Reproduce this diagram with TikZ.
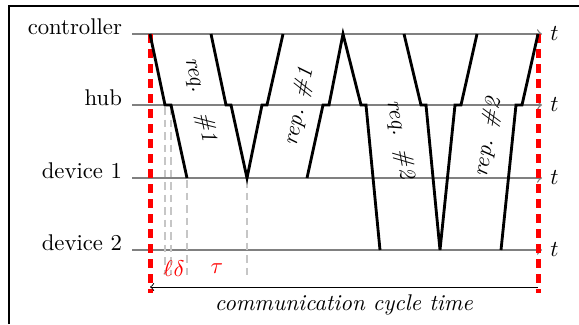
\documentclass[tikz,border=0pt]{standalone}
\usepackage{amsmath,amssymb}
\usepackage{tikz}

\begin{document}
\begin{tikzpicture}[x=0.44pt,y=-0.44pt,
  lane/.style={gray,semithick,->},
  msg/.style={line width=1.25pt,line join=miter},
  cyclemark/.style={red,line width=2.2pt,dash pattern=on 4pt off 2.6pt},
  tick/.style={gray!45,semithick,dash pattern=on 3.5pt off 2pt}]
 \useasboundingbox (0,0) rectangle (579,324);
 \draw[line width=1.3pt] (9,324) -- (9,6) -- (579,6);
 \foreach \y/\name/\lbl in {34/ctrl/controller,105/hub/hub,178/devA/device 1,250/devB/device 2}{
   \node[anchor=base east] (\name) at (130,\y) {\lbl};
   \coordinate (\name-s) at (132,\y);
   \coordinate (\name-e) at (542,\y);
   \draw[lane] (\name-s) -- (\name-e) node[right,black] (\name-t) {$t$};
 }
 \draw[tick] (165,107) -- (165,275);
 \draw[tick] (171,107) -- (171,275);
 \draw[tick] (187,180) -- (187,275);
 \draw[tick] (247,180) -- (247,275);
 \node[red] (ell) at (168,269) {$\ell$};
 \node[red] (dlt) at (179,269) {$\delta$};
 \node[red] (tau) at (217,269) {$\tau$};
 \draw[cyclemark] (150,34) -- (150,293);
 \draw[cyclemark] (538,34) -- (538,293);
 \coordinate (cycL) at (150,287);
 \coordinate (cycR) at (538,287);
 \draw[<-] (cycL) -- node[below] (cyclbl) {\textit{communication cycle time}} (cycR);
 \draw[msg] (150,34) -- (165,105) -- (171,105) -- (187,178);
 \draw[msg] (211,34) -- (226,105) -- (231,105) -- (247,178) -- (262,105) -- (267,105) -- (283,34);
 \draw[msg] (307,178) -- (323,105) -- (329,105) -- (343,34) -- (361,105) -- (366,105) -- (380,250);
 \draw[msg] (404,34) -- (421,105) -- (426,105) -- (440,250) -- (455,105) -- (461,105) -- (477,34);
 \draw[msg] (501,250) -- (516,105) -- (522,105) -- (538,34);
 \node[rotate=-78] (req1) at (200,100) {\textit{req.\hspace{9pt}\#1}};
 \node[rotate=78] (rep1) at (299,107) {\textit{rep.\hspace{5pt}\#1}};
 \node[rotate=-80] (req2) at (400,140) {\textit{req.\hspace{6pt}\#2}};
 \node[rotate=80] (rep2) at (488,137) {\textit{rep.\hspace{5pt}\#2}};
\end{tikzpicture}
\end{document}
